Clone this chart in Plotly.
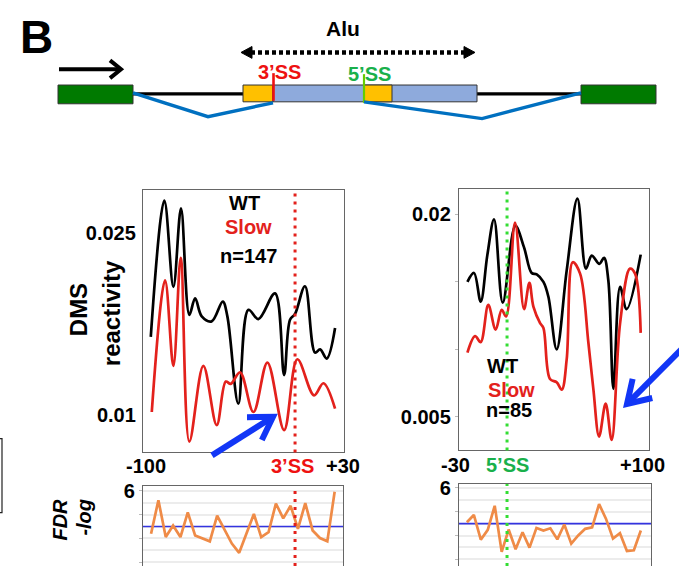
import math
import plotly.graph_objects as go

W, H = 679, 566
FONT = "Liberation Sans, Arial, sans-serif"

# ---- 3' splice-site window (-100 .. +30) ----
ss3_wt_pos = [-100.2, -90.8, -84.5, -79.2, -73.4, -69.4, -64.8, -57.9, -50.2, -47.0, -39.4,
              -32.4, -25.5, -13.9, -7.6, -3.5, 0.0, 6.9, 13.9, 17.4, 22.0, 27.8]
ss3_wt = [0.01644, 0.02769, 0.02057, 0.02704, 0.01826, 0.01962, 0.01813, 0.01772, 0.01935,
          0.01813, 0.01092, 0.01867, 0.01791, 0.02003, 0.01329, 0.01785, 0.01834, 0.02062,
          0.01514, 0.01541, 0.01465, 0.01717]
ss3_slow_pos = [-99.5, -90.3, -84.5, -79.4, -73.4, -63.7, -54.4, -48.1, -44.7, -38.2, -28.9,
                -19.2, -7.6, 1.6, 13.2, 19.7, 27.8]
ss3_slow = [0.01024, 0.02111, 0.01405, 0.02296, 0.00780, 0.01405, 0.00916, 0.01275, 0.01256,
            0.01351, 0.01024, 0.01432, 0.00875, 0.01459, 0.01161, 0.01261, 0.01051]
ss3_fdr_pos = [-100, -94.9, -89.8, -84.7, -79.6, -74.5, -69.4, -64.3, -59.2, -54.1, -49.0,
               -43.9, -38.8, -33.7, -28.6, -23.5, -18.4, -13.3, -8.2, -3.1, 2.0, 7.1, 12.2,
               17.3, 22.4, 27.5]
ss3_fdr = [2.39, 5.22, 2.11, 3.08, 2.11, 4.19, 2.25, 1.97, 1.75, 3.92, 2.67, 1.56, 0.78,
           2.39, 4.06, 2.11, 2.53, 4.94, 3.69, 4.75, 2.81, 4.97, 2.67, 2.03, 1.75, 5.94]

# ---- 5' splice-site window (-30 .. +100) ----
ss5_wt_pos = [-29.6, -24.7, -19.7, -14.7, -9.7, -3.2, 6.2, 12.7, 18.4, 22.2, 27.2, 30.9,
              37.1, 44.6, 52.6, 59.0, 63.3, 69.0, 72.5, 75.7, 79.5, 84.5, 89.4, 99.9]
ss5_wt = [0.0150, 0.01566, 0.01354, 0.0170, 0.01963, 0.01346, 0.01915, 0.01756, 0.01566,
          0.01556, 0.0150, 0.0139, 0.0100, 0.01585, 0.02117, 0.01598, 0.01695, 0.01634,
          0.01678, 0.01512, 0.00707, 0.01463, 0.01298, 0.01702]
ss5_slow_pos = [-29.6, -23.9, -19.7, -14.0, -8.5, -4.0, -0.7, 6.0, 12.7, 16.7, 19.7, 24.7,
                27.2, 32.1, 37.1, 40.9, 44.6, 49.1, 54.6, 60.8, 64.5, 68.8, 73.7, 78.2,
                84.5, 91.9, 95.7, 99.9]
ss5_slow = [0.00976, 0.01098, 0.01054, 0.01329, 0.01146, 0.01293, 0.01244, 0.01939, 0.01298,
            0.01493, 0.01317, 0.01195, 0.01159, 0.0078, 0.00756, 0.00702, 0.00927, 0.01646,
            0.01561, 0.01049, 0.00707, 0.00354, 0.00598, 0.00329, 0.01195, 0.01598,
            0.01561, 0.01122]
ss5_fdr_pos = [-30, -24.8, -19.6, -14.4, -9.2, -4.0, 1.2, 6.4, 11.6, 16.8, 22.0, 27.2, 32.4,
               37.6, 42.8, 48.0, 53.2, 58.4, 63.6, 68.8, 74.0, 79.2, 84.4, 89.6, 94.8, 100.0]
ss5_fdr = [3.11, 3.72, 1.65, 2.48, 4.49, 0.63, 2.50, 0.85, 2.28, 0.99, 2.64, 2.42, 2.61,
           1.68, 2.92, 1.32, 2.01, 2.56, 2.69, 4.63, 3.39, 1.74, 2.20, 0.71, 0.77, 2.42]

FDR_CUTOFF = 3  # -log10(0.001)

BLACK = "#000000"
RED = "#e3211c"
ORANGE = "#ef8b47"
GREEN_TXT = "#19b04b"
ARROW_BLUE = "#1236f6"

X3_RANGE = [-105.6, 34.0]
X5_RANGE = [-35.9, 106.1]
X3_FDR_RANGE = [-105.6, 33.3]
X5_FDR_RANGE = [-35.9, 107.6]


def px(x):
    return x / W


def py(y):
    return 1 - y / H


fig = go.Figure()

line_kw = dict(mode="lines", line_shape="spline", hoverinfo="skip", showlegend=False)
fig.add_trace(go.Scatter(x=ss3_wt_pos, y=ss3_wt, line=dict(color=BLACK, width=2.7, smoothing=1),
                         xaxis="x", yaxis="y", **line_kw))
fig.add_trace(go.Scatter(x=ss3_slow_pos, y=ss3_slow, line=dict(color=RED, width=2.7, smoothing=1),
                         xaxis="x", yaxis="y", **line_kw))
fig.add_trace(go.Scatter(x=ss5_wt_pos, y=ss5_wt, line=dict(color=BLACK, width=2.7, smoothing=1),
                         xaxis="x2", yaxis="y2", **line_kw))
fig.add_trace(go.Scatter(x=ss5_slow_pos, y=ss5_slow, line=dict(color=RED, width=2.7, smoothing=1),
                         xaxis="x2", yaxis="y2", **line_kw))

# significance threshold, drawn under the FDR traces
plain = dict(mode="lines", hoverinfo="skip", showlegend=False)
fig.add_trace(go.Scatter(x=X3_FDR_RANGE, y=[FDR_CUTOFF, FDR_CUTOFF],
                         line=dict(color="#3434e0", width=1.6), xaxis="x3", yaxis="y3", **plain))
fig.add_trace(go.Scatter(x=X5_FDR_RANGE, y=[FDR_CUTOFF, FDR_CUTOFF],
                         line=dict(color="#3434e0", width=1.6), xaxis="x4", yaxis="y4", **plain))
fig.add_trace(go.Scatter(x=ss3_fdr_pos, y=ss3_fdr, line=dict(color=ORANGE, width=2.7),
                         xaxis="x3", yaxis="y3", **plain))
fig.add_trace(go.Scatter(x=ss5_fdr_pos, y=ss5_fdr, line=dict(color=ORANGE, width=2.7),
                         xaxis="x4", yaxis="y4", **plain))

frame = dict(showline=True, linecolor="#666666", linewidth=1.3, mirror=True,
             zeroline=False, showgrid=False)
tickfont = dict(family=FONT, size=20, color="black", weight="bold")
fdr_y = dict(tickvals=[0, 2, 4, 6], ticktext=["", "", "", "6"], ticks="outside",
             ticklen=3, tickcolor="#bbbbbb", tickfont=tickfont, showgrid=True,
             gridcolor="#ececec", gridwidth=1.5,
             minor=dict(dtick=1, showgrid=True, gridcolor="#ececec", gridwidth=1.5),
             showline=True, linecolor="#666666", linewidth=1.3, mirror=True,
             zeroline=False)

layout_axes = dict(
    xaxis=dict(domain=[px(143), px(344)], range=X3_RANGE, showticklabels=False,
               ticks="", anchor="y", **frame),
    yaxis=dict(domain=[py(451), py(185)], range=[0.006902, 0.028587], anchor="x",
               tickvals=[0.01, 0.025], ticktext=["0.01", "0.025"], ticks="outside",
               ticklen=2, tickcolor="rgba(0,0,0,0)", tickfont=tickfont, **frame),
    xaxis2=dict(domain=[px(459), px(649)], range=X5_RANGE, showticklabels=False,
                ticks="", anchor="y2", **frame),
    yaxis2=dict(domain=[py(449), py(184)], range=[0.002512, 0.021902], anchor="x2",
                tickvals=[0.005, 0.01, 0.015, 0.02], ticktext=["0.005", "", "", "0.02"],
                ticks="outside", ticklen=3, tickcolor="#bbbbbb", tickfont=tickfont, **frame),
    xaxis3=dict(domain=[px(143), px(343)], range=X3_FDR_RANGE, showticklabels=False,
                ticks="", anchor="y3", **frame),
    yaxis3=dict(domain=[0, py(485)], range=[-0.33, 6.42], anchor="x3", **fdr_y),
    xaxis4=dict(domain=[px(459), px(651)], range=X5_FDR_RANGE, showticklabels=False,
                ticks="", anchor="y4", **frame),
    yaxis4=dict(domain=[0, py(483)], range=[-0.55, 6.31], anchor="x4", **fdr_y),
)

shapes = []

# splice-site markers through the profile and FDR panels
for xr, yr, col in [("x", "y domain", RED), ("x3", "y3 domain", RED),
                    ("x2", "y2 domain", "#33dd33"), ("x4", "y4 domain", "#33dd33")]:
    shapes.append(dict(type="line", xref=xr, yref=yr, x0=0, x1=0, y0=0, y1=1,
                       line=dict(color=col, width=3, dash="3px,5px"), layer="above"))


def rect(x0, y0, x1, y1, fill, lc="#333333", lw=1):
    return dict(type="rect", xref="paper", yref="paper", x0=px(x0), x1=px(x1),
                y0=py(y1), y1=py(y0), fillcolor=fill, line=dict(color=lc, width=lw),
                layer="above")


def seg(pts, color, width, dash=None, fill=None, close=False):
    path = "M " + " L ".join(f"{px(a):.5f},{py(b):.5f}" for a, b in pts)
    if close:
        path += " Z"
    ln = dict(color=color, width=width)
    if dash:
        ln["dash"] = dash
    d = dict(type="path", xref="paper", yref="paper", path=path, line=ln, layer="above")
    if fill:
        d["fillcolor"] = fill
    return d


def chevron_arrow(tail, tip, color, width, head=26, spread=32):
    """Straight shaft with an open V head, in pixel coordinates."""
    ang = math.atan2(tail[1] - tip[1], tail[0] - tip[0])
    arms = []
    for s in (-1, 1):
        a = ang + s * math.radians(spread)
        arms.append((tip[0] + head * math.cos(a), tip[1] + head * math.sin(a)))
    out = [seg([tail, (tip[0] + 3 * math.cos(ang), tip[1] + 3 * math.sin(ang))], color, width)]
    out.append(seg([arms[0], tip, arms[1]], color, width))
    return out


# gene model: introns, exons, Alu exon with splice sites
shapes.append(seg([(133, 88), (243, 88)], "black", 3.4))
shapes.append(seg([(477, 88), (581, 88)], "black", 3.4))
shapes.append(rect(58, 79, 133, 98, "#007a00"))
shapes.append(rect(581, 79, 656, 98, "#007a00"))
shapes.append(rect(243, 79, 273, 96, "#ffc000"))
shapes.append(rect(273, 79, 477, 96, "#8eaadc"))
shapes.append(rect(364, 79, 392, 96, "#ffc000"))
shapes.append(seg([(273.5, 67), (273.5, 95)], "#ee1111", 2.6))
shapes.append(seg([(364, 68), (364, 97)], "#66cc00", 2.2))
shapes.append(seg([(133, 87), (208, 111), (273, 97)], "#0070c0", 3.4))
shapes.append(seg([(364, 96), (482, 113), (581, 87)], "#0070c0", 3.4))

# transcription direction arrow
shapes.append(seg([(59, 63), (120, 63)], "black", 4))
shapes.append(seg([(110, 54), (121, 63), (110, 72)], "black", 4))

# Alu extent (dotted double arrow)
shapes.append(seg([(251, 46), (466, 46)], "black", 4.4, dash="4px,3px"))
shapes.append(seg([(241, 46), (252, 40), (252, 52)], "black", 1, fill="black", close=True))
shapes.append(seg([(475, 46), (464, 40), (464, 52)], "black", 1, fill="black", close=True))

# arrows pointing at the Slow-specific dips
shapes += chevron_arrow((212, 454), (273, 415), ARROW_BLUE, 6)
shapes += chevron_arrow((684, 344), (627, 402), ARROW_BLUE, 6)

# neighbouring panel edge
shapes.append(dict(type="rect", xref="paper", yref="paper", x0=px(-20), x1=px(2),
                   y0=py(512), y1=py(437), line=dict(color="#222222", width=1.2),
                   fillcolor="rgba(0,0,0,0)"))

annotations = []


def text(x, y, s, size=20, color="black", angle=0, italic=False):
    t = f"<b>{s}</b>"
    if italic:
        t = f"<i>{t}</i>"
    annotations.append(dict(x=px(x), y=py(y), xref="paper", yref="paper", text=t,
                            showarrow=False, textangle=angle, xanchor="center",
                            yanchor="middle",
                            font=dict(family=FONT, size=size, color=color)))


text(36, 30, "B", size=46)
text(343, 22, "Alu", size=21)
text(279, 66, "3’SS", size=20, color="#ee1111")
text(370, 68, "5’SS", size=20, color=GREEN_TXT)

text(244, 198, "WT")
text(249, 223, "Slow", color=RED)
text(249, 252, "n=147")
text(502, 363, "WT")
text(511, 388, "Slow", color=RED)
text(509, 408, "n=85")

text(78, 307, "DMS", size=24, angle=-90)
text(111, 310, "reactivity", size=24, angle=-90)
text(60, 519, "FDR", size=20, angle=-90, italic=True)
text(84, 517, "-log", size=20, angle=-90, italic=True)

text(146, 465, "-100")
text(292, 465, "3’SS", color="#ee1111")
text(343, 465, "+30")
text(456, 464, "-30")
text(507, 464, "5’SS", color=GREEN_TXT)
text(642, 464, "+100")

fig.update_layout(
    width=W, height=H, margin=dict(l=0, r=0, t=0, b=0),
    paper_bgcolor="white", plot_bgcolor="white",
    showlegend=False, shapes=shapes, annotations=annotations,
    font=dict(family=FONT),
    **layout_axes,
)

fig.write_html("out.html")
